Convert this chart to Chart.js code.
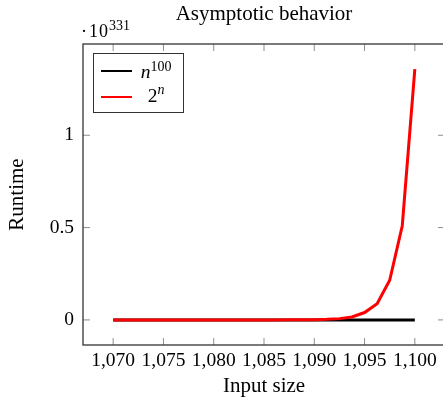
<!DOCTYPE html>
<html><head><meta charset="utf-8">
<script src="https://cdn.jsdelivr.net/npm/chart.js@4.4.1/dist/chart.umd.min.js"></script>
<style>
html,body{margin:0;padding:0;overflow:hidden;background:#fff;}
#wrap{position:relative;width:443px;height:397px;overflow:hidden;background:#fff;}
#c{position:absolute;left:0;top:0;}
.ov{position:absolute;font-family:"Liberation Serif",serif;color:#000;white-space:nowrap;line-height:1;}
.sup{position:relative;}
</style></head><body>
<div id="wrap">
<canvas id="c" width="450" height="397"></canvas>
<div id="exp" class="ov"></div>
<div id="legend" class="ov"></div>
</div>
<script>
// ---- data ----
const inputSizes = [1070,1071.25,1072.5,1073.75,1075,1076.25,1077.5,1078.75,1080,1081.25,1082.5,1083.75,1085,1086.25,1087.5,1088.75,1090,1091.25,1092.5,1093.75,1095,1096.25,1097.5,1098.75,1100];
const polyRuntime = [0,0,0,0,0,0,0,0,0,0,0,0,0,0,0,0,0,0,0,0,0,0,0,0,0];
const expRuntime  = [0,0,0,0,0,0,0,0,0,0,0,0,0,0.0001,0.0003,0.0006,0.0013,0.003,0.007,0.016,0.040,0.088,0.215,0.51,1.358];
const seriesLabels = ['n^100','2^n'];
const seriesColors = ['#000000','#ff0000'];
const xTickValues = [1070,1075,1080,1085,1090,1095,1100];
const xTickLabels = ['1,070','1,075','1,080','1,085','1,090','1,095','1,100'];
const yTickValues = [0,0.5,1];
const yTickLabels = ['0','0.5','1'];
const yExponent = '331';
const chartTitle = 'Asymptotic behavior';
const xTitle = 'Input size';
const yTitle = 'Runtime';

const SERIF = "'Liberation Serif', serif";

function toPoints(xs, ys){ return xs.map((x,i)=>({x:x, y:ys[i]})); }

const frameAndTicks = {
  id:'frameAndTicks',
  afterDraw(chart){
    const {ctx, chartArea:a, scales} = chart;
    const tl = 7;
    ctx.save();
    ctx.strokeStyle = 'rgba(0,0,0,0.45)';
    ctx.lineWidth = 1;
    ctx.beginPath();
    xTickValues.forEach(v=>{
      const px = scales.x.getPixelForValue(v);
      ctx.moveTo(px, a.bottom); ctx.lineTo(px, a.bottom - tl);
      ctx.moveTo(px, a.top); ctx.lineTo(px, a.top + tl);
    });
    yTickValues.forEach(v=>{
      const py = scales.y.getPixelForValue(v);
      ctx.moveTo(a.left, py); ctx.lineTo(a.left + tl, py);
      ctx.moveTo(a.right, py); ctx.lineTo(a.right - tl, py);
    });
    ctx.stroke();
    ctx.strokeStyle = '#333';
    ctx.lineWidth = 1.3;
    ctx.strokeRect(a.left, a.top, a.right - a.left, a.bottom - a.top);
    ctx.restore();
  }
};

const chart = new Chart(document.getElementById('c'), {
  type:'line',
  data:{
    datasets:[
      {label:seriesLabels[0], data:toPoints(inputSizes, polyRuntime), borderColor:seriesColors[0], borderWidth:3, pointRadius:0, tension:0, fill:false, order:1},
      {label:seriesLabels[1], data:toPoints(inputSizes, expRuntime), borderColor:seriesColors[1], borderWidth:3, pointRadius:0, tension:0, fill:false, order:0}
    ]
  },
  options:{
    responsive:false,
    animation:false,
    devicePixelRatio:1,
    layout:{padding:{left:0,right:5,top:0,bottom:0}},
    plugins:{
      legend:{display:false},
      tooltip:{enabled:false},
      title:{display:true, text:chartTitle, fullSize:false, color:'#000',
        font:{family:SERIF, size:21, weight:'normal', lineHeight:1.2},
        padding:{top:1.5,bottom:17.3}}
    },
    scales:{
      x:{type:'linear', position:'bottom', min:1067, max:1103,
        afterBuildTicks:(s)=>{ s.ticks = xTickValues.map(v=>({value:v})); },
        afterFit:(s)=>{ s.height = 52; },
        grid:{display:false, drawTicks:false}, border:{display:false},
        ticks:{autoSkip:false, maxRotation:0, minRotation:0, padding:4, color:'#000',
          font:{family:SERIF, size:19.5, lineHeight:1.2},
          callback:(v,i)=>xTickLabels[i]},
        title:{display:true, text:xTitle, color:'#000', padding:{top:0,bottom:0.5},
          font:{family:SERIF, size:21, lineHeight:1}}
      },
      y:{type:'linear', position:'left', min:-0.1358, max:1.494,
        afterBuildTicks:(s)=>{ s.ticks = yTickValues.map(v=>({value:v})); },
        afterFit:(s)=>{ s.width = 83; },
        grid:{display:false, drawTicks:false}, border:{display:false},
        ticks:{autoSkip:false, padding:9, color:'#000',
          font:{family:SERIF, size:19.5, lineHeight:1.2},
          callback:(v,i)=>yTickLabels[i]},
        title:{display:true, text:yTitle, color:'#000', padding:{top:7.4,bottom:0},
          font:{family:SERIF, size:21, lineHeight:1}}
      }
    }
  },
  plugins:[frameAndTicks]
});

// ---- HTML overlays with superscripts (exponent and legend) ----
function fmtLabel(lbl){
  const parts = lbl.split('^');
  const it = s => s.replace(/n/g,'<i>n</i>');
  return {base: it(parts[0]), sup: it(parts[1] || '')};
}

const exp = document.getElementById('exp');
exp.style.left = '81px';
exp.style.top = '22.2px';
exp.style.fontSize = '18px';
exp.innerHTML = '<span>·</span><span style="margin-left:2px;letter-spacing:1px">10</span><span class="sup" style="font-size:14px;top:-7px">' + yExponent + '</span>';

const leg = document.getElementById('legend');
leg.style.left = '93px';
leg.style.top = '53px';
leg.style.width = '89px';
leg.style.height = '58px';
leg.style.border = '1px solid #333';
leg.style.background = '#fff';
const rowLine = [16, 42];
const rowText = [8.4, 31.8];
let html = '';
chart.data.datasets.forEach((ds, i)=>{
  const f = fmtLabel(ds.label);
  html += '<div style="position:absolute;left:7px;top:' + rowLine[i] + 'px;width:31px;height:2px;background:' + ds.borderColor + '"></div>';
  html += '<div style="position:absolute;left:42px;width:40px;text-align:center;top:' + rowText[i] + 'px;font-size:19.5px">' + f.base + '<span class="sup" style="font-size:14px;top:-7.5px">' + f.sup + '</span></div>';
});
leg.innerHTML = html;
</script>
</body></html>
